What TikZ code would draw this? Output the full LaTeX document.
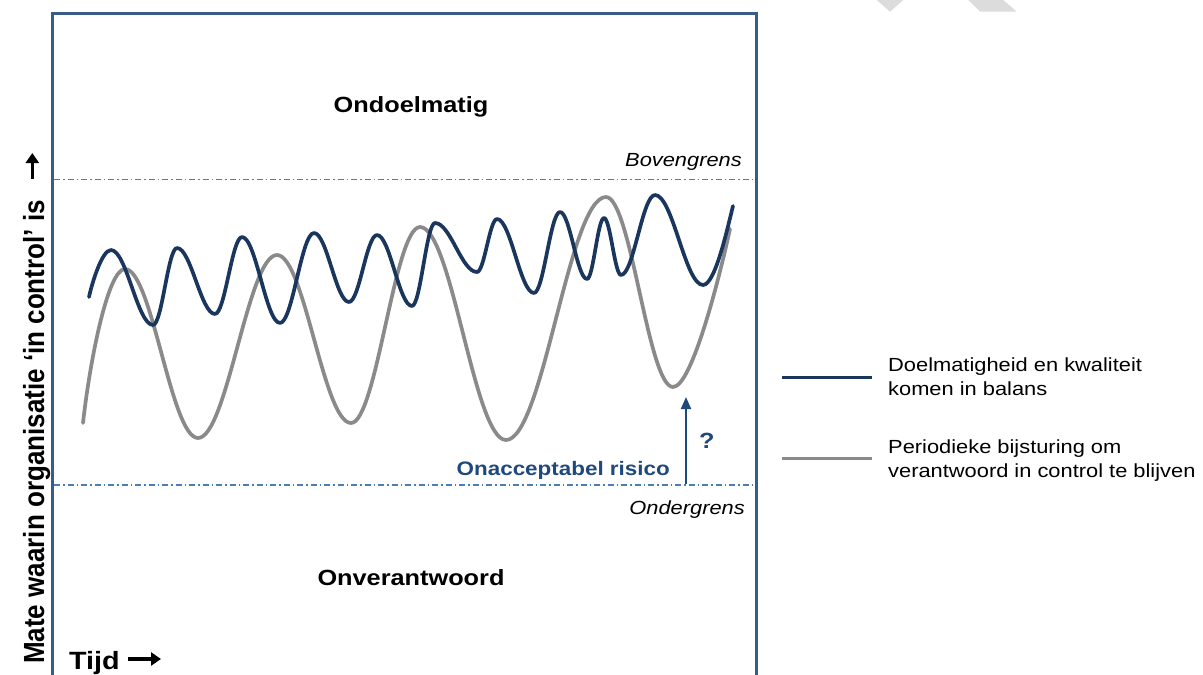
\documentclass[tikz,border=0pt]{standalone}
\usepackage{fontspec}
\setmainfont{Liberation Sans}[FakeStretch=1.15]
\newfontfamily\vfont{Liberation Sans}
\usetikzlibrary{arrows.meta}
\definecolor{navy}{HTML}{1B365D}
\definecolor{greyc}{HTML}{8A8A8A}
\definecolor{framec}{HTML}{385D8A}
\definecolor{dashc}{HTML}{4A7EBB}
\definecolor{riskc}{HTML}{1F497D}
\definecolor{wmark}{HTML}{DCDCDC}
\tikzset{
  frame/.style={draw=framec, line width=3pt},
  limitline/.style={draw=dashc, line width=1.6pt, dash pattern=on 6pt off 3pt on 1.5pt off 3pt},
  bluecurve/.style={draw=navy, line width=3.7pt, line cap=round, line join=round},
  greycurve/.style={draw=greyc, line width=3.7pt, line cap=round, line join=round},
  zone/.style={font=\fontsize{22}{26}\selectfont\bfseries, inner sep=0pt},
  limitlabel/.style={font=\fontsize{19}{23}\selectfont\itshape, inner sep=0pt},
  legendtext/.style={font=\fontsize{19}{24}\selectfont, align=left, inner sep=0pt, anchor=west},
  riskarrow/.style={draw=riskc, line width=2pt, -{Triangle[length=12pt,width=10pt]}},
  blackarrow/.style={draw=black, line width=3.5pt, -{Triangle[length=10pt,width=13pt]}},
}
\begin{document}
\begin{tikzpicture}[x=1pt,y=-1pt]
\useasboundingbox (0,0) rectangle (1203,675);
% watermark fragments
\fill[wmark] (876.7,0) -- (903.3,0) -- (890,11.7) -- cycle;
\fill[wmark] (968.3,0) -- (1003.3,0) -- (1016.7,11.7) -- (980,11.7) -- cycle;
% frame
\draw[frame] (52.5,690) -- (52.5,13.5) -- (756.5,13.5) -- (756.5,690);
% limits
\coordinate (bovL) at (54,179.5);
\coordinate (bovR) at (755,179.5);
\coordinate (ondL) at (54,485);
\coordinate (ondR) at (755,485);
\draw[limitline] (bovL) -- (bovR);
\draw[limitline] (ondL) -- (ondR);
% zone labels
\node[zone] (ondoel) at (411,107) {Ondoelmatig};
\node[zone] (onver) at (411,578) {Onverantwoord};
\node[limitlabel, anchor=base east] (boven) at (742,166) {Bovengrens};
\node[limitlabel, anchor=base east] (onder) at (745,514) {Ondergrens};
% grey curve
\draw[greycurve] (83,423)
  .. controls (90,360) and (108,269) .. (125,269)
  .. controls (152,269) and (171,438) .. (198,438)
  .. controls (227,438) and (248,255) .. (277,255)
  .. controls (304.4,255) and (323.6,423) .. (351,423)
  .. controls (376.5,423) and (394.5,227) .. (420,227)
  .. controls (451.8,227) and (474.2,440) .. (506,440)
  .. controls (543,440) and (569,197) .. (606,197)
  .. controls (630.8,197) and (648.2,387) .. (673,387)
  .. controls (692,387) and (720,275) .. (730,229);
% blue curve
\draw[bluecurve] (89,297)
  .. controls (92,283) and (102,250) .. (111,250)
  .. controls (126.5,250) and (137.5,325) .. (153,325)
  .. controls (162,325) and (168,248) .. (177,248)
  .. controls (191,248) and (201,314) .. (215,314)
  .. controls (225,314) and (232,237) .. (242,237)
  .. controls (256,237) and (266,323) .. (280,323)
  .. controls (292.6,323) and (301.4,233) .. (314,233)
  .. controls (327,233) and (336,302) .. (349,302)
  .. controls (359.4,302) and (366.6,235) .. (377,235)
  .. controls (390,235) and (399,306) .. (412,306)
  .. controls (420.5,306) and (426.5,223) .. (435,223)
  .. controls (450.5,223) and (461.5,272) .. (477,272)
  .. controls (484.4,272) and (489.6,219) .. (497,219)
  .. controls (510.7,219) and (520.3,293) .. (534,293)
  .. controls (543.6,293) and (550.4,212) .. (560,212)
  .. controls (570,212) and (577,279) .. (587,279)
  .. controls (593.3,279) and (597.7,218) .. (604,218)
  .. controls (610.3,218) and (614.7,275) .. (621,275)
  .. controls (633.6,275) and (642.4,195) .. (655,195)
  .. controls (672.8,195) and (685.2,285) .. (703,285)
  .. controls (715,285) and (727,230) .. (733,206);
% risk
\coordinate (riskbase) at (686,484);
\coordinate (risktip) at (686,397);
\draw[riskarrow] (riskbase) -- (risktip);
\node[font=\fontsize{19.5}{23}\selectfont\bfseries, text=riskc, inner sep=0pt, anchor=base east] (risk) at (670,475) {Onacceptabel risico};
\node[font=\fontsize{22}{26}\selectfont\bfseries, text=riskc, inner sep=0pt, anchor=base west] (quest) at (699,448) {?};
% axes labels
\node[font=\vfont\fontsize{26}{30}\selectfont\bfseries, rotate=90, anchor=base, inner sep=0pt] (ylab) at (44,432) {\scalebox{1}[1.12]{Mate waarin organisatie ‘in control’ is}};
\coordinate (yarrS) at (32.3,179);
\coordinate (yarrE) at (32.3,153);
\draw[blackarrow] (yarrS) -- (yarrE);
\node[font=\fontsize{25}{29}\selectfont\bfseries, anchor=base west, inner sep=0pt] (tijd) at (69,669) {Tijd};
\coordinate (xarrS) at (128,659);
\coordinate (xarrE) at (161,659);
\draw[blackarrow] (xarrS) -- (xarrE);
% legend
\coordinate (l1a) at (782,377);
\coordinate (l1b) at (872,377);
\coordinate (l2a) at (782,458);
\coordinate (l2b) at (872,458);
\draw[draw=navy, line width=3pt] (l1a) -- (l1b);
\draw[draw=greyc, line width=3pt] (l2a) -- (l2b);
\node[legendtext] (leg1) at (888,377) {Doelmatigheid en kwaliteit\\komen in balans};
\node[legendtext] (leg2) at (888,461) {Periodieke bijsturing om\\verantwoord in control te blijven};
\end{tikzpicture}
\end{document}
